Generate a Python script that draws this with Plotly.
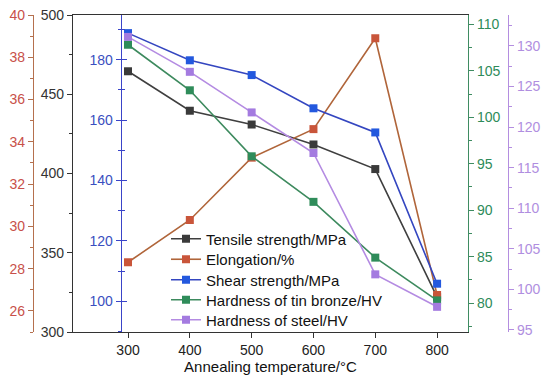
import plotly.graph_objects as go

temperature = [300, 400, 500, 600, 700, 800]
tensile = [464.5, 439.6, 430.9, 418.3, 402.8, 322.0]
elongation = [28.3, 30.3, 33.25, 34.6, 38.9, 26.75]
shear = [188.8, 179.8, 174.9, 163.9, 155.9, 105.8]
hard_bronze = [107.8, 102.9, 95.8, 90.9, 84.9, 80.3]
hard_steel = [131.1, 126.8, 121.8, 116.8, 101.85, 97.85]
series_names = ["Tensile strength/MPa", "Elongation/%", "Shear strength/MPa",
                "Hardness of tin bronze/HV", "Hardness of steel/HV"]
x_ticks = [300, 400, 500, 600, 700, 800]

W, H = 550, 378
OFF = 8            # page body margin offset
ML, MR = 2, 2
PW = W - ML - MR
T, B = 15 - OFF, H - (332 - OFF)
PH = H - T - B
def px(x):         # screen x -> paper fraction
    return (x - OFF - ML) / PW
def py(y):         # screen y -> paper fraction
    return (H - B - (y - OFF)) / PH

font = "Liberation Sans, Arial, sans-serif"
c_red_l, c_red_m = "#b0653a", "#c9553a"
c_blue_l, c_blue_m = "#3446c0", "#2358de"
c_green_l, c_green_m = "#3d8a5e", "#2f8c5a"
c_purp_l, c_purp_m = "#b48be2", "#a47be0"
c_red_ax, c_red_txt = "#b5704e", "#c8504a"
c_blue_ax, c_blue_txt = "#3a44c8", "#3a4fc0"
c_green_ax, c_green_txt = "#3f8c62", "#2e8b5a"
c_purp_ax, c_purp_txt = "#b48ee0", "#b08ee0"

fig = go.Figure()
def add(y, name, lc, mc, ax, lg):
    fig.add_trace(go.Scatter(x=temperature, y=y, name=name, yaxis=ax, mode="lines+markers",
                             legend=lg, line=dict(color=lc, width=1.6),
                             marker=dict(symbol="square", size=8, color=mc)))
add(tensile, series_names[0], "#3f3f3f", "#3a3a3a", "y", "legend")
add(elongation, series_names[1], c_red_l, c_red_m, "y2", "legend2")
add(shear, series_names[2], c_blue_l, c_blue_m, "y3", "legend3")
add(hard_bronze, series_names[3], c_green_l, c_green_m, "y4", "legend4")
add(hard_steel, series_names[4], c_purp_l, c_purp_m, "y5", "legend5")
fig.add_trace(go.Scatter(x=[None], y=[None], yaxis="y6", showlegend=False, hoverinfo="skip"))

def leg(ys):
    return dict(x=px(166), y=py(ys), xanchor="left", yanchor="middle", bgcolor="rgba(0,0,0,0)",
                font=dict(family=font, size=15, color="#111"), itemwidth=30, borderwidth=0)

dom = [px(73), px(468)]
common = dict(showgrid=False, zeroline=False, automargin=False, linewidth=1.2, ticklen=5,
              ticks="outside", ticklabeloverflow="allow")
fig.update_layout(
    template="none",
    width=W, height=H, margin=dict(l=ML, r=MR, t=T, b=B, pad=0),
    paper_bgcolor="white", plot_bgcolor="white", font=dict(family=font, size=14, color="#222"),
    showlegend=True,
    legend=leg(239), legend2=leg(259.5), legend3=leg(280), legend4=leg(300), legend5=leg(320),
    xaxis=dict(domain=dom, range=[211, 850], tickvals=x_ticks, showline=True, linecolor="#333",
               mirror=True, tickcolor="#333", tickfont=dict(family=font, size=14, color="#222"),
               title=dict(text="Annealing temperature/°C", standoff=4,
                          font=dict(family=font, size=15, color="#111")),
               **common),
    yaxis=dict(range=[300, 500], dtick=50, showline=True, linecolor="#333", tickcolor="#333",
               minor=dict(dtick=25, ticks="outside", ticklen=3, tickcolor="#333"),
               tickfont=dict(family=font, size=14, color="#333"), **common),
    yaxis2=dict(range=[25, 40], dtick=2, overlaying="y", anchor="free", position=px(33), side="left",
                showline=True, linecolor=c_red_ax, tickcolor=c_red_ax,
                minor=dict(dtick=1, ticks="outside", ticklen=3, tickcolor=c_red_ax),
                tickfont=dict(family=font, size=14, color=c_red_txt), **common),
    yaxis3=dict(range=[89.8, 194.8], dtick=20, tick0=100, overlaying="y", anchor="free",
                position=px(120.7), side="left", showline=True, linecolor=c_blue_ax, tickcolor=c_blue_ax,
                minor=dict(dtick=10, ticks="outside", ticklen=3, tickcolor=c_blue_ax),
                tickfont=dict(family=font, size=14, color=c_blue_txt), **common),
    yaxis6=dict(range=[89.8, 194.8], dtick=20, tick0=100, overlaying="y", anchor="free",
                position=px(120.7), side="left", showgrid=False, zeroline=False, automargin=False,
                showline=False, showticklabels=False, ticks="inside", ticklen=5, tickcolor=c_blue_ax,
                minor=dict(dtick=10, ticks="inside", ticklen=3, tickcolor=c_blue_ax)),
    yaxis4=dict(range=[76.9, 111.0], dtick=5, overlaying="y", anchor="x", side="right",
                showline=True, linecolor=c_green_ax, tickcolor=c_green_ax,
                minor=dict(dtick=2.5, ticks="outside", ticklen=3, tickcolor=c_green_ax),
                tickfont=dict(family=font, size=14, color=c_green_txt), **common),
    yaxis5=dict(range=[94.75, 133.8], dtick=5, overlaying="y", anchor="free", position=px(508),
                side="right", showline=True, linecolor=c_purp_ax, tickcolor=c_purp_ax,
                minor=dict(dtick=2.5, ticks="outside", ticklen=3, tickcolor=c_purp_ax),
                tickfont=dict(family=font, size=14, color=c_purp_txt), **common),
)

fig.write_html("out.html")
